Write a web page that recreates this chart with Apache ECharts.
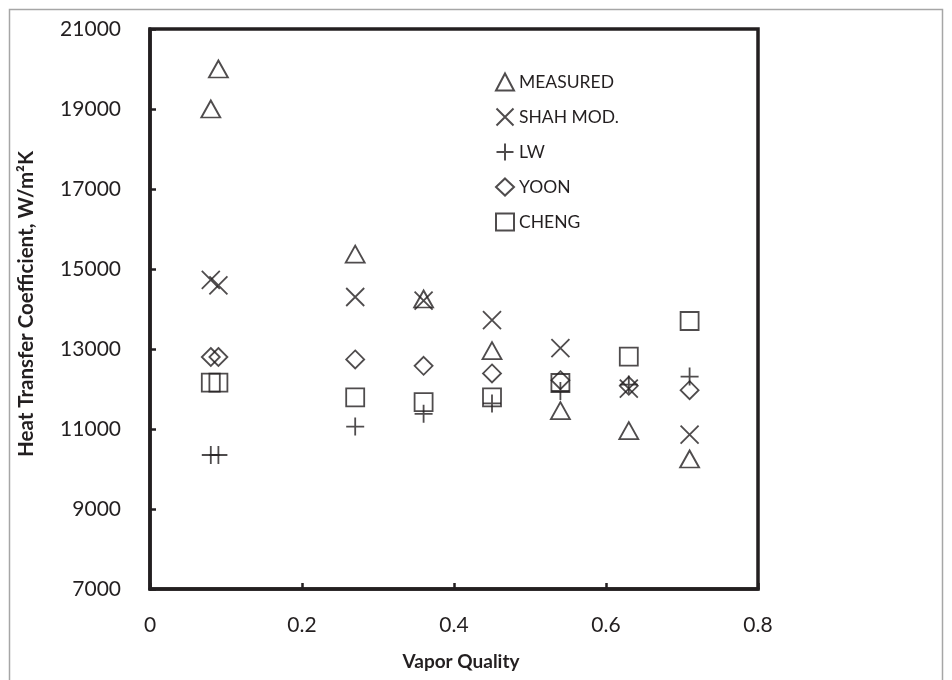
<!DOCTYPE html>
<html>
<head>
<meta charset="utf-8">
<script src="https://cdn.jsdelivr.net/npm/echarts@6/dist/echarts.min.js"></script>
<style>
html,body{margin:0;padding:0;background:#fff;}
#chart{width:952px;height:680px;}
</style>
</head>
<body>
<div id="chart"></div>
<script>
// Vapor quality (x) for each measurement point
const quality = [0.08, 0.09, 0.27, 0.36, 0.45, 0.54, 0.63, 0.71];
// Heat transfer coefficient, W/m2K
const measured = [19000, 20000, 15370, 14250, 12960, 11460, 10960, 10250];
const shahMod  = [14730, 14590, 14300, 14210, 13720, 13020, 12010, 10860];
const lw       = [10350, 10350, 11060, 11380, 11640, 11950, 12110, 12310];
const yoon     = [12800, 12800, 12740, 12580, 12390, 12220, 12080, 11970];
const cheng    = [12160, 12160, 11790, 11670, 11790, 12150, 12810, 13700];
const yTicks = [7000, 9000, 11000, 13000, 15000, 17000, 19000, 21000];
const xTicks = [0, 0.2, 0.4, 0.6, 0.8];

const seriesNames = ['MEASURED', 'SHAH MOD.', 'LW', 'YOON', 'CHENG'];
const seriesData = [measured, shahMod, lw, yoon, cheng];
const symbols = [
  'triangle',
  'path://M0,0L10,10M10,0L0,10',
  'path://M5,0L5,10M0,5L10,5',
  'diamond',
  'rect'
];
const sizes = [[19, 17], 18, 18, [18, 18], 18];

const ink = '#231f20';
const font = 'Lato';

const chart = echarts.init(document.getElementById('chart'), null, {renderer: 'canvas'});

const series = seriesNames.map((name, i) => ({
  name: name,
  type: 'scatter',
  symbol: symbols[i],
  symbolSize: sizes[i],
  data: quality.map((q, j) => [q, seriesData[i][j]]),
  itemStyle: {color: 'rgba(0,0,0,0)', borderColor: ink, borderWidth: 1.8},
  emphasis: {disabled: true},
  z: 10 - i
}));

chart.setOption({
  animation: false,
  backgroundColor: '#fff',
  graphic: [{
    type: 'rect',
    shape: {x: 9.5, y: 9.5, width: 933, height: 700},
    style: {fill: 'none', stroke: '#a6a6a6', lineWidth: 1.5},
    silent: true
  }],
  grid: {
    left: 150, right: 194, top: 29, bottom: 91,
    show: true, borderColor: ink, borderWidth: 3.5, backgroundColor: 'transparent'
  },
  legend: {
    orient: 'vertical',
    left: 490, top: 67,
    itemWidth: 18, itemHeight: 17,
    itemGap: 15,
    data: seriesNames,
    textStyle: {fontFamily: font, fontSize: 17.5, color: ink, lineHeight: 20},
    selectedMode: false
  },
  xAxis: {
    type: 'value',
    min: 0, max: 0.8, interval: 0.2,
    name: 'Vapor Quality',
    nameLocation: 'middle',
    nameGap: 63,
    nameTextStyle: {fontFamily: font, fontSize: 19, fontWeight: 'bold', color: ink, padding: [0, 0, 0, 14]},
    axisLine: {show: true, onZero: false, lineStyle: {color: ink, width: 3.5}},
    axisTick: {show: true, inside: true, length: 6, lineStyle: {color: ink, width: 2.5}},
    axisLabel: {
      fontFamily: font, fontSize: 21, color: ink, margin: 26,
      customValues: xTicks,
      formatter: v => String(v)
    },
    splitLine: {show: false}
  },
  yAxis: {
    type: 'value',
    min: 7000, max: 21000, interval: 2000,
    name: 'Heat Transfer Coefficient, W/m²K',
    nameLocation: 'middle',
    nameGap: 113,
    nameTextStyle: {fontFamily: font, fontSize: 20.5, fontWeight: 'bold', color: ink, padding: [0, 0, 0, 10]},
    axisLine: {show: true, lineStyle: {color: ink, width: 3.5}},
    axisTick: {show: true, inside: true, length: 6, lineStyle: {color: ink, width: 2.5}},
    axisLabel: {
      fontFamily: font, fontSize: 21, color: ink, margin: 29,
      formatter: v => String(v)
    },
    splitLine: {show: false}
  },
  series: series
});
</script>
</body>
</html>
